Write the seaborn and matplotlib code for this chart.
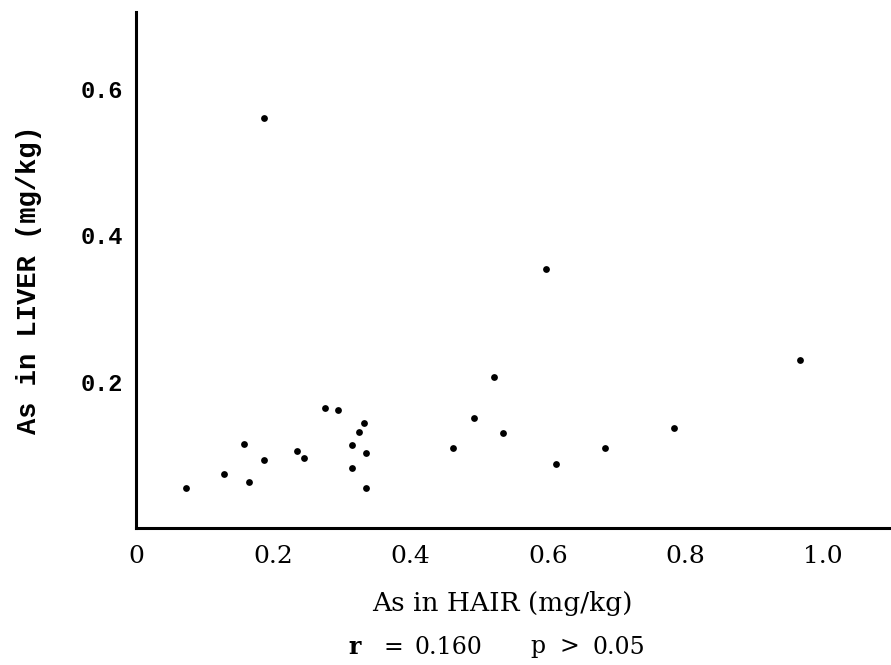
#!/usr/bin/env python3
"""
As in hair vs As in liver scatter - recreated from a scanned figure
"""

import matplotlib
matplotlib.use("Agg")
import matplotlib.pyplot as plt
import seaborn as sns
import pandas as pd

# data (mg/kg)
hair = [0.073, 0.128, 0.157, 0.165, 0.187, 0.187, 0.235, 0.245, 0.276, 0.294,
        0.332, 0.325, 0.315, 0.335, 0.315, 0.335, 0.462, 0.493, 0.522, 0.534,
        0.598, 0.612, 0.684, 0.784, 0.968]
liver = [0.055, 0.074, 0.115, 0.063, 0.093, 0.560, 0.105, 0.096, 0.164, 0.161,
         0.143, 0.131, 0.113, 0.102, 0.082, 0.055, 0.109, 0.150, 0.206, 0.130,
         0.354, 0.087, 0.109, 0.137, 0.230]

x_ticks = [0, 0.2, 0.4, 0.6, 0.8, 1.0]
x_ticklabels = ["0", "0.2", "0.4", "0.6", "0.8", "1.0"]
y_ticks = [0.2, 0.4, 0.6]
y_ticklabels = ["0.2", "0.4", "0.6"]

x_title = "As in HAIR (mg/kg)"
y_title = "As in LIVER (mg/kg)"
stat_parts = ["r", "=", "0.160", "p", ">", "0.05"]

df = pd.DataFrame({"hair": hair, "liver": liver})

sns.set_style("white")
plt.rcParams['font.family'] = ['DejaVu Serif', 'DejaVu Sans']
for key in ["text.color", "axes.labelcolor", "xtick.color", "ytick.color"]:
    plt.rcParams[key] = "black"

W, H = 891, 665
fig = plt.figure(figsize=(W / 100, H / 100), dpi=100)
# axes box in pixels: origin at (136, 528), top at y=12, right edge of figure
ax = fig.add_axes([136 / W, 1 - 528 / H, 755 / W, (528 - 12) / H])

sns.scatterplot(data=df, x="hair", y="liver", ax=ax, color="black",
                s=24, linewidth=0, marker="o")

ax.set_xlim(0, 1.1)
ax.set_ylim(0, 0.705)

sns.despine(ax=ax)
for side in ["left", "bottom"]:
    ax.spines[side].set_color("black")
    ax.spines[side].set_linewidth(2.2)

ax.set_xticks(x_ticks)
ax.set_xticklabels(x_ticklabels, fontsize=18, family="DejaVu Serif")
ax.set_yticks(y_ticks)
ax.set_yticklabels(y_ticklabels, fontsize=17, family="Liberation Mono",
                   fontweight="bold")
ax.tick_params(axis="both", direction="in", length=5, width=1.2, color="black")
ax.tick_params(axis="x", pad=12)
ax.tick_params(axis="y", pad=9)

# axis titles, placed where the scan has them
ax.set_xlabel(x_title, fontsize=19, family="DejaVu Serif")
ax.xaxis.set_label_coords((502 - 136) / 755, -(604 - 528) / 516)
ax.xaxis.label.set_va("center")

ax.set_ylabel(y_title, fontsize=19.5, family="Liberation Mono", fontweight="bold")
ax.yaxis.set_label_coords((29 - 136) / 755, (528 - 280) / 516)
ax.yaxis.label.set_va("center")

# r / p line under the x title
stat_x = [348, 384, 414, 530, 560, 592]
for txt, px in zip(stat_parts, stat_x):
    fig.text(px / W, 1 - 647 / H, txt, ha="left", va="center", fontsize=17,
             family="DejaVu Serif", fontweight="bold" if txt == "r" else "normal")

fig.savefig("out.png", dpi=100, facecolor="white")
plt.close(fig)
